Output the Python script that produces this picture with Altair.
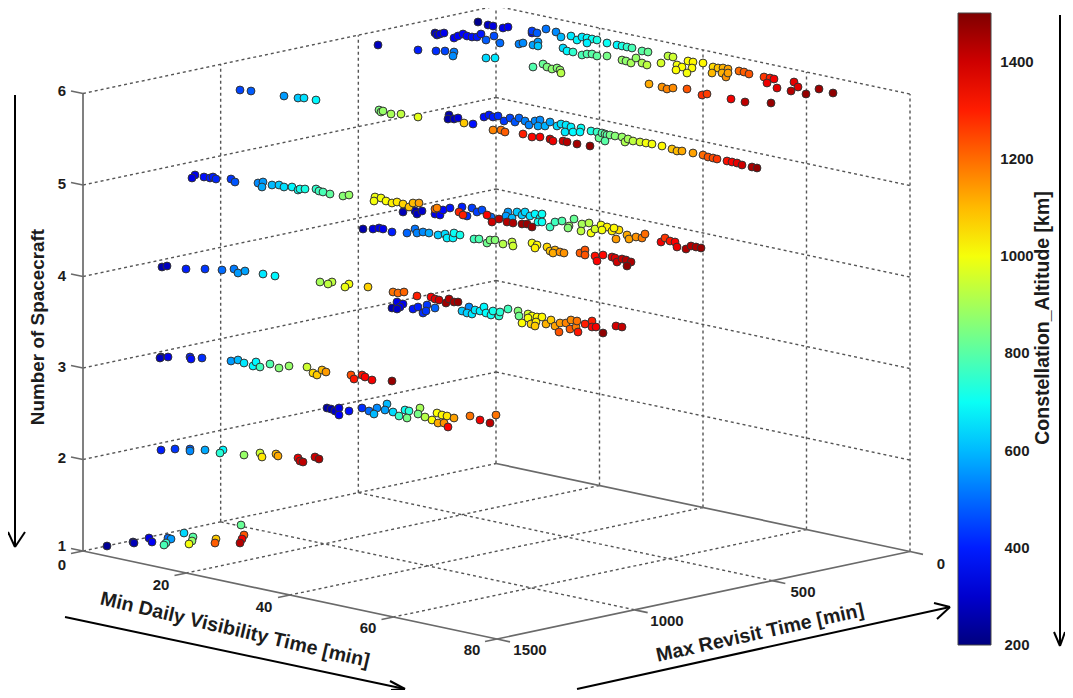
import altair as alt
import pandas as pd

# --- Scatter readings: projected position of each spacecraft design and its altitude (km)
n1 = [(107,546,230),(133,542,260),(134,543,270),(149,538,330),(152,542,350),(168,538,500),(171,539,560),(166,543,760),(164,545,780),(184,533,640),(193,537,800),(192,541,880),(189,544,1000),(216,539,1080),(215,543,1220),(241,525,820),(244,535,1230),(242,539,1350),(240,543,1430)]
n2 = [(161,450,400),(175,449,430),(190,449,480),(190,451,540),(205,450,580),(223,450,680),(220,453,740),(244,455,880),(260,453,950),(262,457,1040),(276,454,1100),(278,456,1120),(298,458,1360),(300,461,1390),(303,462,1420),(315,457,1400),(319,459,1440)]
n2_far = [(327,408,250),(331,409,260),(335,411,290),(339,408,330),(339,415,360),(349,411,380),(362,408,420),(369,411,500),(377,408,540),(374,414,600),(387,404,600),(385,410,570),(393,412,640),(399,416,760),(405,410,700),(409,411,740),(407,418,840),(420,408,900),(418,414,840),(425,417,920),(432,420,1010),(437,413,1010),(442,415,1020),(447,416,1040),(438,423,1120),(444,423,1150),(454,418,1130),(448,427,1340),(470,416,1190),(480,420,1350),(490,423,1420),(496,415,1190)]
n3 = [(161,357,240),(160,358,280),(168,357,340),(190,357,400),(191,359,380),(202,358,420),(231,361,560),(238,360,600),(244,363,660),(253,366,680),(256,362,680),(260,367,770),(270,364,790),(279,368,860),(289,366,880),(307,367,950),(313,373,1060),(317,375,1080),(322,370,1100),(326,372,1140),(351,375,1240),(354,379,1310),(362,375,1310),(365,377,1340),(372,380,1350),(392,381,1470)]
n3_far = [(393,292,1190),(398,293,1200),(404,292,1210),(417,296,1300),(431,297,1340),(435,299,1380),(439,300,1400),(446,303,1460),(449,299,1430),(454,302,1450),(458,302,1470),(397,302,340),(403,304,340),(400,307,340),(392,308,260),(397,309,300),(413,309,390),(418,307,400),(423,313,420),(427,305,430),(426,311,430),(435,308,490),(462,311,620),(469,307,540),(467,313,630),(472,314,660),(475,310,660),(480,311,670),(484,307,680),(486,313,690),(491,315,700),(493,311,710),(499,316,740),(500,312,740),(508,309,770),(518,311,860),(519,316,830),(522,323,1010),(528,314,960),(532,316,1000),(528,318,1000),(537,317,1020),(542,317,1020),(531,324,1060),(536,322,1030),(535,326,1080),(546,324,1110),(551,320,1080),(555,326,1130),(560,323,1140),(559,332,1230),(566,323,1170),(570,329,1220),(571,320,1160),(576,327,1180),(577,321,1190),(578,332,1310),(585,324,1300),(592,321,1300),(592,327,1330),(596,327,1350),(603,333,1480),(616,326,1390),(622,327,1410)]
n4 = [(162,267,260),(167,266,280),(186,269,400),(205,269,430),(222,270,500),(234,269,520),(238,273,560),(245,271,570),(263,274,660),(275,276,680),(320,282,900),(332,282,930),(328,284,930),(349,284,1000),(345,287,990),(368,287,1070)]
n4_mid = [(363,229,260),(373,229,320),(379,228,330),(383,229,340),(392,232,400),(407,233,490),(415,229,510),(417,233,530),(423,232,540),(429,233,580),(438,235,620),(445,234,640),(447,238,670),(453,238,680),(454,233,700),(460,235,710),(474,239,770),(479,239,790),(487,243,830),(490,240,850),(495,240,860),(503,244,920),(512,242,940),(513,246,950),(532,243,1000),(537,245,1020),(535,248,1030),(547,247,1060),(550,251,1090),(555,250,1110),(553,253,1120),(560,252,1150),(564,253,1150),(580,253,1220),(585,250,1230),(585,255,1230),(595,256,1320),(603,255,1330),(597,261,1340),(612,257,1370),(615,258,1380),(617,262,1400),(622,259,1410),(626,260,1430),(631,262,1440),(627,266,1480)]
n4_far = [(403,212,270),(415,211,260),(417,214,280),(422,211,300),(435,214,340),(440,215,360),(443,210,370),(450,208,390),(462,207,400),(467,216,420),(472,208,440),(477,212,440),(482,210,460),(491,217,500),(435,209,1200),(437,208,1170),(459,212,1290),(463,215,1300),(487,215,1340),(508,212,560),(506,216,560),(512,218,600),(517,212,620),(522,215,620),(525,212,640),(530,216,650),(535,214,680),(540,218,690),(542,214,700),(538,222,710),(492,222,1400),(499,219,1420),(507,222,1430),(513,223,1440),(522,224,1460),(527,224,1470),(532,227,1460),(542,222,700),(550,227,760),(555,222,770),(562,221,790),(569,226,880),(568,228,860),(574,219,820),(582,224,900),(589,223,920),(581,231,930),(591,233,1000),(595,229,960),(601,225,1000),(607,227,1030),(602,230,1000),(612,231,1030),(619,230,1050),(614,228,1020),(627,235,1120),(616,239,1140),(629,239,1130),(636,237,1150),(642,238,1180),(645,234,1200),(661,242,1350),(665,238,1270),(670,241,1310),(675,242,1340),(677,247,1360),(686,249,1440),(691,246,1430),(696,247,1440),(701,248,1470)]
n5 = [(195,175,340),(192,178,330),(204,177,380),(210,178,390),(213,177,400),(216,179,410),(231,179,430),(235,182,470),(258,183,540),(263,182,560),(262,187,580),(272,185,600),(279,185,620),(284,187,650),(292,187,680),(298,190,700),(300,189,710),(305,189,720),(316,189,750),(319,191,770),(323,192,780),(330,194,810),(343,196,860),(349,195,880),(375,197,990),(374,201,1000),(381,198,1000),(386,201,1010),(392,203,1030),(397,202,1040),(403,204,1070),(409,207,1090),(413,203,1100),(419,203,1130)]
n5_far = [(379,110,850),(381,112,860),(383,111,880),(391,114,900),(401,114,930),(418,117,980),(449,115,260),(448,119,250),(454,119,280),(458,118,320),(464,123,1080),(473,124,380),(484,117,380),(489,115,390),(493,117,400),(498,116,420),(504,121,430),(510,118,450),(515,122,470),(519,118,490),(525,121,530),(529,125,530),(535,121,540),(540,120,540),(538,126,570),(545,126,590),(550,122,570),(557,126,640),(561,124,650),(566,125,660),(565,132,660),(571,127,670),(573,132,680),(581,128,700),(580,132,680),(591,131,720),(597,132,760),(599,138,820),(602,133,790),(605,134,820),(607,135,800),(605,141,800),(610,135,840),(615,136,860),(622,137,880),(625,142,910),(628,139,900),(633,141,930),(640,142,960),(646,143,1000),(652,144,1000),(662,146,1020),(672,149,1090),(677,151,1100),(682,151,1120),(693,153,1130),(703,155,1200),(708,157,1230),(713,158,1240),(717,159,1270),(727,161,1320),(732,162,1340),(737,163,1370),(742,165,1400),(752,167,1440),(757,168,1480),(493,130,1170),(501,130,1190),(505,132,1220),(523,134,1300),(532,137,1330),(540,137,1340),(550,139,1400),(553,141,1360),(563,141,1400),(567,142,1430),(577,144,1450),(590,146,1480)]
n6_left = [(240,90,450),(251,91,480),(284,96,560),(298,98,620),(304,98,650),(316,100,680)]
n6_far = [(378,45,280),(418,50,400),(436,51,420),(445,51,450),(454,52,520),(453,56,540),(486,58,640),(495,58,660),(478,22,220),(435,33,280),(437,35,300),(440,34,320),(444,33,340),(454,38,350),(458,36,360),(463,34,360),(467,36,370),(472,37,380),(477,37,390),(481,34,390),(486,40,480),(494,36,460),(500,43,500),(488,25,290),(493,26,320),(503,28,340),(508,27,350),(519,44,530),(523,43,540),(532,33,350),(532,31,440),(537,33,480),(546,29,510),(556,32,540),(561,37,600),(533,45,570),(538,42,560),(538,46,620),(571,36,660),(577,40,680),(582,37,660),(587,38,690),(592,39,700),(597,40,720),(587,43,670),(563,48,640),(567,51,680),(573,52,750),(582,55,780),(587,54,790),(592,54,800),(597,56,810),(607,56,840),(607,43,700),(617,45,680),(622,46,720),(627,47,750),(632,48,780),(642,51,800),(648,52,820),(533,67,790),(543,64,820),(547,67,850),(552,69,870),(557,68,860),(560,70,880),(561,73,920),(668,56,930),(673,57,950),(622,60,880),(626,61,870),(631,63,900),(636,58,880),(642,63,910),(647,65,930),(661,63,960),(677,65,1000),(682,67,1010),(676,70,1010),(688,61,1010),(693,62,1020),(692,68,1010),(687,73,1000),(703,63,1020),(713,67,1060),(718,68,1090),(723,68,1110),(728,69,1130),(712,73,1100),(722,73,1110),(726,77,1150),(728,73,1130),(739,71,1200),(744,72,1220),(749,74,1230),(764,77,1270),(770,78,1300),(774,79,1350),(767,83,1360),(777,88,1370),(794,82,1370),(798,87,1380),(791,91,1430),(806,94,1470),(819,89,1460),(833,93,1480),(649,84,1120),(662,87,1150),(667,89,1170),(673,88,1160),(687,89,1230),(702,95,1280),(707,94,1260),(731,99,1350),(745,102,1420),(771,103,1470)]

groups = [n1, n2, n2_far, n3, n3_far, n4, n4_mid, n4_far, n5, n5_far, n6_left, n6_far]

# --- Labels
spacecraft_ticks = [1, 2, 3, 4, 5, 6]
visibility_ticks = [0, 20, 40, 60, 80]
revisit_ticks = [0, 500, 1000, 1500]
altitude_ticks = [200, 400, 600, 800, 1000, 1200, 1400]
jet = ["#00007f", "#0000ff", "#007fff", "#00ffff", "#7fff7f", "#ffff00", "#ff7f00", "#ff0000", "#7f0000"]
ALT_MIN, ALT_MAX = 200, 1500
FONT = "Liberation Sans"
INK = "#1c1c1c"


def proj(vis, rev, n):
    """Orthographic view of the 3D box."""
    a, b = vis / 80, 1 - rev / 1500
    return 83 + 414 * a + 413 * b, 551 + 88 * a - 87.5 * b - 91.5 * (n - 1)


def seg(p, q):
    return {"x": p[0], "y": p[1], "x2": q[0], "y2": q[1]}


dashed, solid = [], []
for n in spacecraft_ticks[1:]:
    dashed.append(seg(proj(0, 1500, n), proj(0, 0, n)))
    dashed.append(seg(proj(0, 0, n), proj(80, 0, n)))
    p = proj(0, 1500, n)
    solid.append(seg((p[0] - 12, p[1] - 2.5), p))
for r in revisit_ticks:
    if r != 1500:
        dashed.append(seg(proj(0, r, 1), proj(0, r, 6)))
    if 0 < r < 1500:
        dashed.append(seg(proj(0, r, 1), proj(80, r, 1)))
    p = proj(80, r, 1)
    solid.append(seg(p, (p[0] + 13, p[1] + 2.8)))
for v in visibility_ticks:
    if v > 0:
        dashed.append(seg(proj(v, 0, 1), proj(v, 0, 6)))
    if 0 < v < 80:
        dashed.append(seg(proj(v, 0, 1), proj(v, 1500, 1)))
    p = proj(v, 1500, 1)
    solid.append(seg(p, (p[0] - 12, p[1] + 2.5)))
dashed.append(seg(proj(0, 1500, 1), proj(0, 0, 1)))
p = proj(0, 1500, 1)
solid.append(seg((p[0] - 12, p[1] - 2.5), p))
solid += [seg(proj(0, 1500, 1), proj(0, 1500, 6)), seg(proj(0, 1500, 1), proj(80, 1500, 1)),
          seg(proj(80, 1500, 1), proj(80, 0, 1)), seg(proj(0, 0, 1), proj(80, 0, 1))]

arrows = [
    seg((15, 95), (15, 547)), seg((15, 547), (8, 532)), seg((15, 547), (25, 532)),
    seg((1060, 15), (1060, 646)), seg((1060, 646), (1054, 632)), seg((1060, 646), (1065, 632)),
    seg((65, 617), (405, 689)), seg((405, 689), (390, 681)), seg((405, 689), (391, 690)),
    seg((577, 689), (950, 607)), seg((950, 607), (934, 603)), seg((950, 607), (937, 619)),
]


def bar_y(a):
    return 645 - (a - ALT_MIN) * (632 / (ALT_MAX - ALT_MIN))


bar_ticks = []
for a in altitude_ticks[1:]:
    bar_ticks.append(seg((958, bar_y(a)), (965, bar_y(a))))
    bar_ticks.append(seg((984, bar_y(a)), (991, bar_y(a))))

z_label_y = {1: 545.5, 2: 458, 3: 367, 4: 276, 5: 184, 6: 91}
tick_text = (
    [{"x": 62, "y": z_label_y[n], "t": str(n)} for n in spacecraft_ticks]
    + [{"x": 62, "y": 565, "t": "0"}, {"x": 161, "y": 585, "t": "20"}, {"x": 264, "y": 607, "t": "40"},
       {"x": 368, "y": 628, "t": "60"}, {"x": 472, "y": 650, "t": "80"},
       {"x": 530, "y": 650, "t": "1500"}, {"x": 667, "y": 621, "t": "1000"},
       {"x": 803, "y": 592, "t": "500"}, {"x": 941, "y": 564, "t": "0"}]
    + [{"x": 1017, "y": bar_y(a), "t": str(a)} for a in altitude_ticks]
)

points = pd.DataFrame([{"x": x, "y": y, "alt": a} for g in groups for x, y, a in g])

x_scale = alt.Scale(domain=[8, 1065], nice=False, zero=False)
y_scale = alt.Scale(domain=[690, 8], nice=False, zero=False)
X = alt.X("x:Q", scale=x_scale, axis=None)
Y = alt.Y("y:Q", scale=y_scale, axis=None)


def rules(rows, **kw):
    return alt.Chart(pd.DataFrame(rows)).mark_rule(**kw).encode(X, Y, x2="x2:Q", y2="y2:Q")


def label(text, x, y, angle, size):
    return alt.Chart(pd.DataFrame([{"x": x, "y": y, "t": text}])).mark_text(
        font=FONT, fontWeight="bold", fontSize=size, angle=angle, color=INK, align="center", baseline="middle"
    ).encode(X, Y, text="t:N")


color_domain = [ALT_MIN + i * (ALT_MAX - ALT_MIN) / 8 for i in range(9)]
dots = alt.Chart(points).mark_point(filled=True, size=62, stroke="#333333", strokeWidth=1, opacity=1).encode(
    X, Y,
    color=alt.Color("alt:Q", scale=alt.Scale(domain=color_domain, range=jet, interpolate="rgb"),
                    legend=alt.Legend(orient="none", legendX=950, legendY=5, direction="vertical", title=None,
                                      gradientLength=632, gradientThickness=33,
                                      gradientStrokeColor="#444", gradientStrokeWidth=1,
                                      values=altitude_ticks, labelOpacity=0, labelFontSize=1)),
)

ticks_layer = alt.Chart(pd.DataFrame(tick_text)).mark_text(
    font=FONT, fontWeight="bold", fontSize=15, color=INK, align="center", baseline="middle"
).encode(X, Y, text="t:N")

chart = alt.layer(
    rules(dashed, color="#555555", strokeDash=[3, 3], strokeWidth=1.4),
    rules(solid, color="#6a6a6a", strokeWidth=1.7),
    dots,
    rules(bar_ticks, color="#222222", strokeWidth=1.2),
    rules(arrows, color="#000000", strokeWidth=2),
    ticks_layer,
    label("Number of Spacecraft", 38, 327, 270, 18.9),
    label("Min Daily Visibility Time [min]", 235, 630, 13.2, 19.6),
    label("Max Revisit Time [min]", 760, 633, 347.5, 19.6),
    label("Constellation_Altitude [km]", 1043, 318, 270, 19.5),
).properties(width=1057, height=682, padding=0, autosize=alt.AutoSizeParams(type="none")).configure_view(stroke=None)

chart.save("out.html", embed_options={"renderer": "svg", "actions": False})
